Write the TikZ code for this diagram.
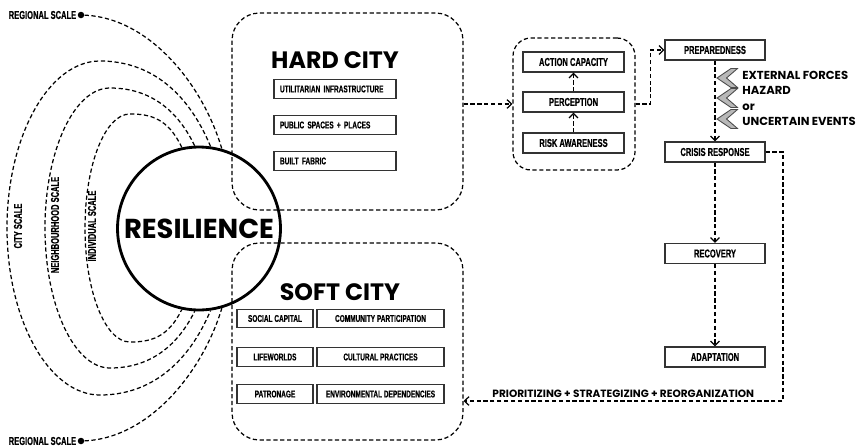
\documentclass[tikz,border=0pt]{standalone}
\usepackage{fontspec}
\usetikzlibrary{arrows.meta,positioning}
\newfontfamily\narrowfont[FakeStretch=0.66, FakeBold=0.5]{Liberation Sans Bold}
\newfontfamily\geofont{Poppins}

\tikzset{
  dashline/.style={line width=0.7pt, dash pattern=on 2.4pt off 1.5pt},
  arr/.style={dashline, -{Straight Barb[length=2.6pt,width=5pt]}},
  container/.style={draw, dashline, rounded corners=0.55cm, minimum width=4.62cm, minimum height=3.94cm},
  tag/.style={draw=black!80, line width=0.6pt, inner sep=0pt, minimum height=0.37cm,
    font=\narrowfont\fontsize{5.6}{6.5}\selectfont},
  stage/.style={draw=black!80, line width=0.6pt, inner sep=0pt, minimum width=2cm, minimum height=0.4cm,
    font=\narrowfont\fontsize{6.5}{7.5}\selectfont},
  scalelabel/.style={inner sep=0pt, font=\narrowfont\fontsize{6.5}{7.5}\selectfont},
  title/.style={inner sep=0pt, font=\geofont\bfseries\fontsize{13.5}{16}\selectfont},
  boldnote/.style={inner sep=0pt, font=\geofont\bfseries\fontsize{6.6}{8.8}\selectfont},
  chevron/.style={fill=black!28, draw=black!70, line width=0.5pt},
  dot/.style={circle, fill, inner sep=0pt, minimum size=0.13cm}
}

\begin{document}
\begin{tikzpicture}[x=0.02cm, y=-0.02cm]
\useasboundingbox (0,0) rectangle (861,447);

% the core
\node[circle, draw, line width=1.6pt, inner sep=0pt, minimum size=3.26cm,
  font=\geofont\bfseries\fontsize{15.6}{18}\selectfont] (res) at (199,228.5) {RESILIENCE};

% scales around the core
\node[dot] (rtop) at (81,15) {};
\node[dot] (rbot) at (81,441) {};
\node[scalelabel, left=0.5pt of rtop] (rtopl) {REGIONAL SCALE};
\node[scalelabel, left=0.5pt of rbot] (rbotl) {REGIONAL SCALE};
\draw[dashline] (rtop) .. controls (150,18) and (203,85) .. (res.74);
\draw[dashline] (rbot) .. controls (150,438) and (203,371) .. (res.-74);

\draw[dashline] (res.82) .. controls (188,92) and (150,61) .. (100,61)
  .. controls (49,61) and (7,136) .. (7,228)
  .. controls (7,320) and (49,395) .. (100,395)
  .. controls (150,395) and (188,364) .. (res.-82);
\draw[dashline] (res.93) .. controls (175,105) and (145,88) .. (110,88)
  .. controls (74,88) and (45,151) .. (45,228)
  .. controls (45,305) and (74,368) .. (110,368)
  .. controls (145,368) and (175,351) .. (res.-93);
\draw[dashline] (res.102) .. controls (168,118) and (150,114) .. (130,114)
  .. controls (105,114) and (85,165) .. (85,228)
  .. controls (85,291) and (105,342) .. (130,342)
  .. controls (150,342) and (168,338) .. (res.-102);

\node[scalelabel, rotate=90] (cityl) at (18,226) {CITY SCALE};
\node[scalelabel, rotate=90] (neighl) at (55,225) {NEIGHBOURHOOD SCALE};
\node[scalelabel, rotate=90] (indivl) at (92,226) {INDIVIDUAL SCALE};

% hard city
\node[container] (hard) at (347.5,111.5) {};
\node[title] (hardt) at (335,60) {HARD CITY};
\node[tag, text width=2.2cm, inner xsep=0.12cm, align=left] (infra) at (335,89) {UTILITARIAN INFRASTRUCTURE};
\node[tag, text width=2.2cm, inner xsep=0.12cm, align=left] (public) at (335,125) {PUBLIC SPACES + PLACES};
\node[tag, text width=2.2cm, inner xsep=0.12cm, align=left] (fabric) at (335,161) {BUILT FABRIC};

% soft city
\node[container] (soft) at (347.5,341.5) {};
\node[title] (softt) at (340,292) {SOFT CITY};
\node[tag, minimum width=1.52cm] (social) at (275,318.5) {SOCIAL CAPITAL};
\node[tag, minimum width=2.54cm] (commun) at (380.5,318.5) {COMMUNITY PARTICIPATION};
\node[tag, minimum width=1.52cm] (life) at (275,357) {LIFEWORLDS};
\node[tag, minimum width=2.54cm] (cultur) at (380.5,357) {CULTURAL PRACTICES};
\node[tag, minimum width=1.52cm] (patron) at (275,394) {PATRONAGE};
\node[tag, minimum width=2.54cm] (environ) at (380.5,394) {ENVIRONMENTAL DEPENDENCIES};

% awareness chain
\node[draw, dashline, rounded corners=0.36cm, minimum width=2.44cm, minimum height=2.64cm] (mid) at (574,104) {};
\node[stage, minimum width=2.02cm] (action) at (573.5,62) {ACTION CAPACITY};
\node[stage, minimum width=2.02cm] (percep) at (573.5,102) {PERCEPTION};
\node[stage, minimum width=2.02cm] (risk) at (573.5,143) {RISK AWARENESS};
\draw[arr] (risk) -- (percep);
\draw[arr] (percep) -- (action);
\draw[arr] (mid.west -| hard.east) -- (mid.west);

% response cycle
\node[stage] (prep) at (715,50) {PREPAREDNESS};
\node[stage] (crisis) at (715,152) {CRISIS RESPONSE};
\node[stage] (recov) at (715,253.5) {RECOVERY};
\node[stage] (adapt) at (715,357) {ADAPTATION};
\draw[arr] (mid.east) -- ++(15,0) |- (prep.west);
\draw[arr] (prep) -- (crisis);
\draw[arr] (crisis) -- (recov);
\draw[arr] (recov) -- (adapt);

\foreach \cy in {78,98,119}
  \filldraw[chevron] (717,\cy) -- ++(14,-9.5) -- ++(6.5,0) -- ++(-11,9.5)
    -- ++(11,9.5) -- ++(-6.5,0) -- cycle;
\node[boldnote, anchor=west, align=left] (forces) at (742,98.5) {EXTERNAL FORCES\\HAZARD\\or\\UNCERTAIN EVENTS};

\coordinate (back) at (783,401);
\draw[arr] (crisis.east) -| (back) -- (back -| soft.east)
  node[boldnote, font=\geofont\bfseries\fontsize{6}{7}\selectfont, midway, above=1.5pt] (reorg) {PRIORITIZING + STRATEGIZING + REORGANIZATION};
\end{tikzpicture}
\end{document}
